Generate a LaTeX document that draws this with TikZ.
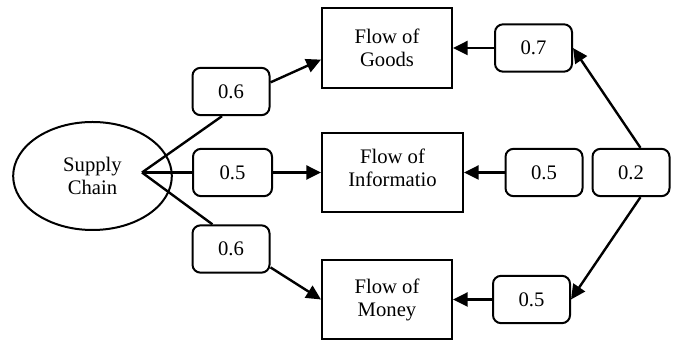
\documentclass[tikz,border=0pt]{standalone}
\usepackage{fontspec}
\setmainfont{Liberation Serif}
\usetikzlibrary{shapes.geometric,arrows.meta}

\begin{document}
\begin{tikzpicture}[x=0.75pt, y=-0.75pt, >={Triangle[length=11pt,width=10.5pt]},
  font=\fontsize{15.5}{17.25}\selectfont]
  \tikzstyle{flow} = [rectangle, draw, line width=1.5pt, inner sep=0pt,
  minimum width=97.5pt, minimum height=59.5pt, align=center]
  \tikzstyle{weight} = [rectangle, rounded corners=6pt, draw, line width=1.5pt,
  minimum width=57.75pt, minimum height=35.5pt, inner sep=0pt]
  \tikzstyle{link} = [line width=1.8pt]

  \useasboundingbox (0,0) rectangle (675,341);

  % Define nodes
  \node[ellipse, draw, line width=1.5pt, minimum width=119pt, minimum height=81pt,
  inner sep=0pt, align=center] (sc) at (92.5,176) {Supply\\Chain};
  \coordinate (hub) at (142,172.5);

  \node[flow] (goods) at (387,48) {Flow of\\Goods};
  \node[flow, minimum width=105.75pt, text depth=7.5pt] (info) at (392.5,172.5) {Flow of\\Informatio};
  \node[flow] (money) at (387,299.5) {Flow of\\Money};

  \node[weight] (w1) at (231,91.5) {0.6};
  \node[weight, minimum width=59.25pt] (w2) at (232.5,172.5) {0.5};
  \node[weight] (w3) at (231,249) {0.6};

  \node[weight] (r1) at (533.5,48) {0.7};
  \node[weight] (r2) at (544,172.5) {0.5};
  \node[weight] (r3) at (631,172.5) {0.2};
  \node[weight] (r4) at (531.5,299.5) {0.5};

  \path [link]
    (hub) edge (w1.250)
    (hub) edge (w2)
    (hub) edge (w3.127);

  \path [link, ->]
    (w1.13) edge (goods.190)
    (w2) edge (info)
    (w3.-25) edge (money.west)
    (r1) edge (goods)
    (r2) edge (info)
    (r4) edge (money)
    (r3.69) edge (r1.east)
    (r3.-69) edge (r4.east);
\end{tikzpicture}
\end{document}
